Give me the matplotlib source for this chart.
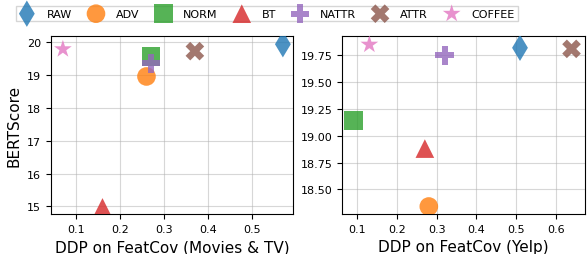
import matplotlib
matplotlib.use("Agg")
import matplotlib.pyplot as plt

methods = ["RAW", "ADV", "NORM", "BT", "NATTR", "ATTR", "COFFEE"]
markers = ["d", "o", "s", "^", "P", "X", "*"]
colors = ["tab:blue", "tab:orange", "tab:green", "tab:red", "tab:purple", "tab:brown", "tab:pink"]

# Movies & TV
ddp_movies = [0.57, 0.26, 0.27, 0.16, 0.27, 0.37, 0.07]
bert_movies = [19.93, 18.95, 19.55, 14.97, 19.35, 19.72, 19.78]

# Yelp
ddp_yelp = [0.51, 0.28, 0.09, 0.27, 0.32, 0.64, 0.13]
bert_yelp = [19.82, 18.34, 19.14, 18.88, 19.75, 19.81, 19.85]

fig = plt.figure(figsize=(5.87, 2.55), dpi=100)
ax1 = fig.add_axes([51/587, 1 - 215/255, 242/587, 178/255])
ax2 = fig.add_axes([342/587, 1 - 215/255, 243/587, 178/255])

for i, m in enumerate(methods):
    ax1.scatter(ddp_movies[i], bert_movies[i], marker=markers[i], color=colors[i],
                s=180, alpha=0.8, edgecolors="none", label=m, zorder=3)
    ax2.scatter(ddp_yelp[i], bert_yelp[i], marker=markers[i], color=colors[i],
                s=180, alpha=0.8, edgecolors="none", zorder=3)

ax1.set_xlim(0.043, 0.593)
ax1.set_ylim(14.77, 20.18)
ax1.set_xticks([0.1, 0.2, 0.3, 0.4, 0.5])
ax1.set_yticks([15, 16, 17, 18, 19, 20])
ax1.set_xlabel("DDP on FeatCov (Movies & TV)", fontsize=11)
ax1.set_ylabel("BERTScore", fontsize=11)

ax2.set_xlim(0.061, 0.674)
ax2.set_ylim(18.27, 19.93)
ax2.set_xticks([0.1, 0.2, 0.3, 0.4, 0.5, 0.6])
ax2.set_yticks([18.5, 18.75, 19.0, 19.25, 19.5, 19.75])
ax2.set_yticklabels(["18.50", "18.75", "19.00", "19.25", "19.50", "19.75"])
ax2.set_xlabel("DDP on FeatCov (Yelp)", fontsize=11)

for ax in (ax1, ax2):
    ax.grid(True, alpha=0.5)
    ax.tick_params(labelsize=8)

fig.legend(loc="upper center", bbox_to_anchor=(267/587, 0.995), ncol=7, fontsize=8,
           handlelength=1.4, handletextpad=1.1, columnspacing=1.45, fancybox=False,
           borderpad=0.25)

fig.savefig("out.png", dpi=100)
